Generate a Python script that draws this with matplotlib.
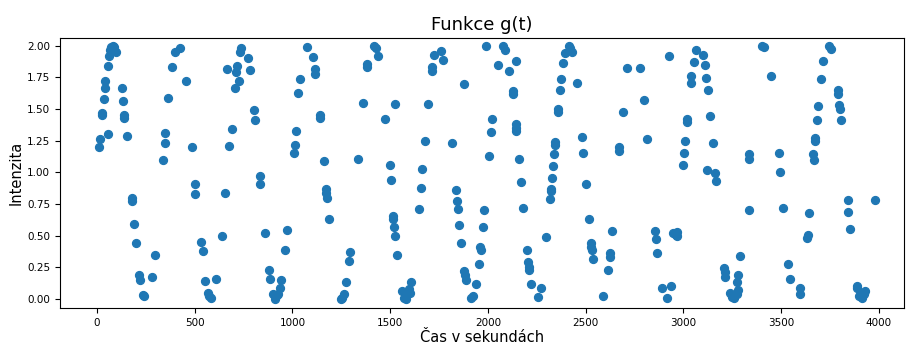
import matplotlib
matplotlib.use("Agg")
import numpy as np
import matplotlib.pyplot as plt

# time [s] and intensity
t_vals = [
    80, 66, 97, 61, 55, 43, 39, 34, 26, 26, 14, 10, 58, 128, 135, 141, 141, 152,
    177, 179, 189, 198, 295, 216, 221, 281, 236, 240, 426, 398, 385, 456, 366,
    349, 346, 339, 487, 501, 501, 72, 88,
    657, 676, 690, 737, 730, 773, 667, 719, 714, 782, 725, 705, 805, 811, 833,
    836, 530, 541, 639, 860, 974, 964, 553, 611, 567, 574, 584, 879, 885, 943,
    936, 901, 921, 913, 926, 1017, 1012, 1006, 1037, 1030,
    1073, 1105, 1114, 1117, 1139, 1141, 1161, 1171, 1173, 1176, 1185, 1296,
    1291, 1275, 1262, 1255, 1250, 1337, 1362, 1384, 1384, 1415, 1427, 1437,
    1475, 1524, 1497, 1502, 1516, 1517, 1521, 1526, 1536, 1560, 1573,
    1599, 1602, 1609, 1582, 1648, 1657, 1665, 1677, 1696, 1715, 1713, 1727,
    1762, 1773, 1817, 1880, 1839, 1844, 1846, 1854, 1863, 1880, 1883, 1887,
    1940, 1923, 1914, 1953, 1962, 1963, 1974, 1982, 2004, 2015, 2021, 1992,
    2052, 2076, 2090, 2110,
    2143, 2127, 2128, 2142, 2144, 2144, 2157, 2168, 2180, 2198, 2205, 2208,
    2210, 2220, 2254, 2270, 2300, 2319, 2322, 2322, 2328, 2333, 2338, 2341,
    2343, 2357, 2359, 2369, 2374, 2386, 2394, 2413, 2421, 2430, 2454, 2481,
    2488, 2502, 2517, 2527, 2530, 2532, 2537, 2588, 2617, 2626, 2624, 2634,
    2673, 2673, 2690, 2714, 2777, 2798, 2816, 2927, 2856, 2859, 2867, 2890,
    2937, 2917, 2949, 2966, 2969, 2961, 3000, 3004, 3009, 3017, 3019, 3037,
    3041, 3053, 3067, 3099, 3110, 3118, 3126, 3138, 3150, 3122, 3164, 3165,
    3403, 3411, 3450, 3334, 3334, 3292, 3208, 3211, 3215, 3278, 3273, 3239,
    3249, 3261, 3273, 3278, 3336, 3488, 3496, 3511, 3538, 3548, 3599, 3595,
    3644, 3636, 3634, 3666, 3667, 3675, 3676, 3685, 3690, 3704, 3714,
    3745, 3758, 3790, 3792, 3797, 3801, 3806, 3840, 3845, 3853, 3983, 3888,
    3891, 3906, 3914, 3926, 3901, 3931,
]
g_vals = [
    1.995, 1.97, 1.955, 1.92, 1.84, 1.72, 1.67, 1.58, 1.47, 1.45, 1.26, 1.20,
    1.30, 1.665, 1.56, 1.45, 1.43, 1.29, 0.80, 0.77, 0.59, 0.44, 0.35, 0.19,
    0.15, 0.17, 0.03, 0.02, 1.98, 1.95, 1.83, 1.72, 1.59, 1.31, 1.235, 1.10,
    1.20, 0.91, 0.83, 1.99, 1.99,
    0.84, 1.21, 1.34, 1.98, 1.95, 1.90, 1.82, 1.84, 1.79, 1.81, 1.72, 1.67,
    1.49, 1.41, 0.97, 0.91, 0.45, 0.38, 0.50, 0.52, 0.545, 0.39, 0.14, 0.155,
    0.05, 0.02, 0.005, 0.23, 0.16, 0.15, 0.085, 0.04, 0.03, 0.0, 0.04, 1.33,
    1.22, 1.15, 1.74, 1.63,
    1.99, 1.91, 1.815, 1.78, 1.45, 1.43, 1.09, 0.865, 0.835, 0.80, 0.63, 0.37,
    0.30, 0.13, 0.04, 0.005, 0.0, 1.105, 1.55, 1.855, 1.83, 2.0, 1.98, 1.92,
    1.42, 1.54, 1.06, 0.94, 0.655, 0.63, 0.565, 0.50, 0.345, 0.065, 0.005,
    0.08, 0.05, 0.135, 0.0, 0.71, 0.875, 1.025, 1.25, 1.54, 1.835, 1.80, 1.93,
    1.96, 1.89, 1.23, 1.70, 0.86, 0.77, 0.71, 0.585, 0.44, 0.22, 0.185, 0.15,
    0.115, 0.025, 0.005, 0.275, 0.41, 0.39, 0.565, 0.70, 1.13, 1.315, 1.42,
    2.0, 1.85, 1.995, 1.97, 1.80,
    1.88, 1.64, 1.62, 1.38, 1.35, 1.33, 1.105, 0.92, 0.715, 0.385, 0.29, 0.25,
    0.225, 0.12, 0.013, 0.085, 0.49, 0.79, 0.855, 0.87, 0.955, 1.05, 1.145,
    1.22, 1.24, 1.50, 1.48, 1.65, 1.735, 1.865, 1.94, 2.0, 1.98, 1.95, 1.71,
    1.28, 1.15, 0.905, 0.63, 0.44, 0.41, 0.39, 0.315, 0.02, 0.23, 0.36, 0.335,
    0.535,
    1.20, 1.17, 1.475, 1.825, 1.825, 1.57, 1.265, 1.92, 0.535, 0.47, 0.365,
    0.09, 0.105, 0.005, 0.52, 0.53, 0.495, 0.505, 1.055, 1.15, 1.245, 1.42,
    1.40, 1.71, 1.76, 1.875, 1.97, 1.93, 1.845, 1.745, 1.65, 1.445, 1.235,
    1.02, 0.995, 0.935,
    1.995, 1.99, 1.76, 1.145, 1.105, 0.34, 0.245, 0.21, 0.17, 0.19, 0.135,
    0.05, 0.013, 0.005, 0.04, 0.07, 0.70, 1.15, 1.00, 0.72, 0.275, 0.16,
    0.085, 0.04, 0.675, 0.505, 0.485, 1.145, 1.095, 1.27, 1.245, 1.41, 1.525,
    1.74, 1.88,
    1.995, 1.975, 1.65, 1.62, 1.53, 1.50, 1.41, 0.78, 0.69, 0.55, 0.78, 0.105,
    0.09, 0.03, 0.005, 0.04, 0.02, 0.06,
]

t = np.array(t_vals)
g = np.array(g_vals)

fig, ax = plt.subplots(figsize=(9.06, 3.44), dpi=100)
fig.subplots_adjust(left=0.066, right=0.998, top=0.89, bottom=0.105)

ax.scatter(t, g, color="#1f77b4", s=32)

ax.set_xlim(-190, 4130)
ax.set_ylim(-0.071, 2.063)
ax.set_xticks(np.arange(0, 4001, 500))
ax.set_yticks(np.arange(0, 2.01, 0.25))
ax.yaxis.set_major_formatter(matplotlib.ticker.FormatStrFormatter("%.2f"))
ax.tick_params(labelsize=7.5)

ax.set_title("Funkce g(t)", fontsize=13)
ax.set_xlabel("Čas v sekundách", fontsize=10.5, labelpad=2)
ax.set_ylabel("Intenzita", fontsize=10.5, labelpad=2)

fig.savefig("out.png", dpi=100)
